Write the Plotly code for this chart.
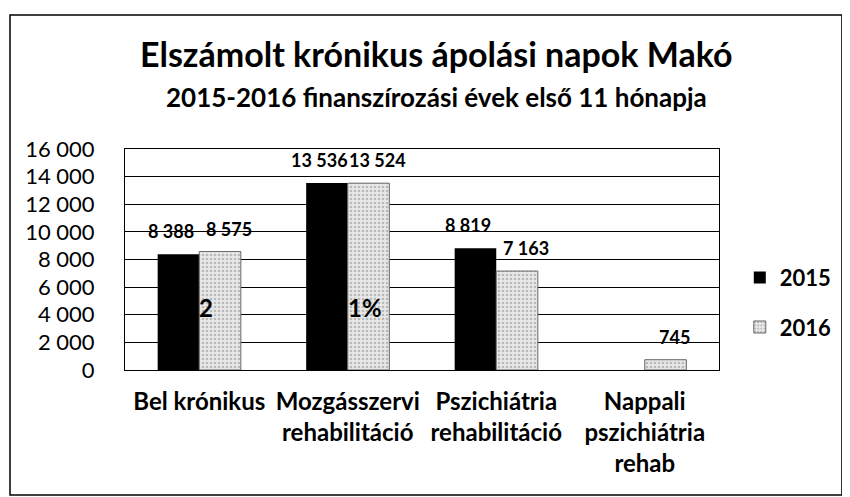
import plotly.graph_objects as go

categories = ["Bel krónikus", "Mozgásszervi<br>rehabilitáció", "Pszichiátria<br>rehabilitáció", "Nappali<br>pszichiátria<br>rehab"]
series_2015 = [8388, 13536, 8819, 0]
series_2016 = [8575, 13524, 7163, 745]
labels_2015 = ["8 388", "13 536", "8 819", ""]
labels_2016 = ["8 575", "13 524", "7 163", "745"]
tick_vals = [0, 2000, 4000, 6000, 8000, 10000, 12000, 14000, 16000]
tick_text = ["0", "2 000", "4 000", "6 000", "8 000", "10 000", "12 000", "14 000", "16 000"]
overlay_text = ["2", "1%"]
overlay_level = 4500

FONT = "Lato"

fig = go.Figure()
fig.add_trace(go.Bar(
    x=categories, y=series_2015, name="2015",
    marker=dict(color="#000000", line=dict(color="#000000", width=0)),
    legendgroup="a",
))
fig.add_trace(go.Bar(
    x=categories, y=series_2016, name="2016",
    marker=dict(color="#dcdcdc", line=dict(color="#666666", width=1),
                pattern=dict(shape=".", fgcolor="#8a8a8a", bgcolor="#e8e8e8", size=4, solidity=0.35)),
    legendgroup="b",
))

annotations = []
for i, c in enumerate(categories):
    if labels_2015[i]:
        annotations.append(dict(x=c, y=series_2015[i], xref="x", yref="y", text=labels_2015[i],
                                showarrow=False, xshift=-28, yanchor="bottom", yshift=10,
                                font=dict(family=FONT, size=18, color="#000", weight="bold")))
    if labels_2016[i]:
        annotations.append(dict(x=c, y=series_2016[i], xref="x", yref="y", text=labels_2016[i],
                                showarrow=False, xshift=30, yanchor="bottom", yshift=10,
                                font=dict(family=FONT, size=18, color="#000", weight="bold")))
for i, t in enumerate(overlay_text):
    annotations.append(dict(x=categories[i], y=overlay_level, xref="x", yref="y", text=t,
                            showarrow=False, xanchor="left", xshift=-2, yanchor="middle",
                            font=dict(family=FONT, size=24, color="#000", weight="bold")))

annotations.append(dict(x=0.525, y=1.434, xref="paper", yref="paper", yanchor="middle",
                        text="Elszámolt krónikus ápolási napok Makó", showarrow=False,
                        font=dict(family=FONT, size=34, color="#000", weight="bold")))
annotations.append(dict(x=0.525, y=1.235, xref="paper", yref="paper", yanchor="middle",
                        text="2015-2016 finanszírozási évek első 11 hónapja", showarrow=False,
                        font=dict(family=FONT, size=26, color="#000", weight="bold")))

fig.update_layout(
    width=850, height=497,
    margin=dict(l=117, r=139, t=141, b=135),
    paper_bgcolor="white", plot_bgcolor="white",
    barmode="group", bargap=0.44, bargroupgap=0,
    font=dict(family=FONT, color="#000"),
    annotations=annotations,
    legend=dict(x=1.035, y=0.305, xanchor="left", yanchor="middle",
                font=dict(family=FONT, size=22, color="#000", weight="bold"),
                tracegroupgap=18, bgcolor="rgba(0,0,0,0)"),
    shapes=[dict(type="rect", xref="paper", yref="paper", x0=-0.1936, x1=1.207, y0=-0.566, y1=1.606,
                 line=dict(color="#000", width=1.5))],
)
fig.update_yaxes(range=[0, 16000], tickvals=tick_vals, ticktext=tick_text,
                 showgrid=True, gridcolor="#000", gridwidth=1,
                 showline=True, linecolor="#000", linewidth=1, mirror=True,
                 ticks="", ticklabelstandoff=25, zeroline=False,
                 tickfont=dict(family=FONT, size=22, color="#000"))
fig.update_xaxes(showline=True, linecolor="#000", linewidth=1, mirror=True,
                 ticks="", tickfont=dict(family=FONT, size=24, color="#000", weight="bold"),
                 ticklabelstandoff=10)

fig.write_html("out.html")
